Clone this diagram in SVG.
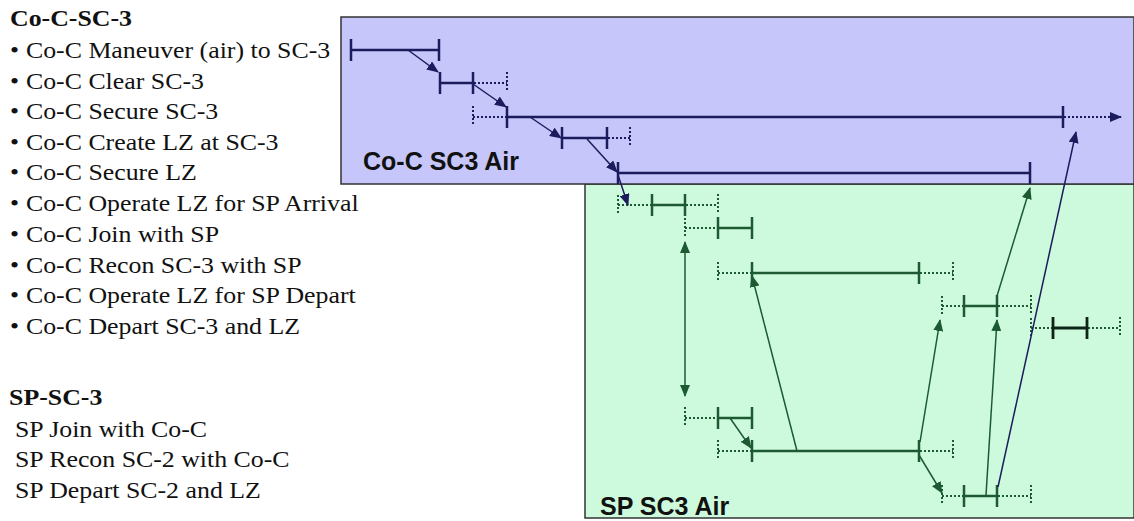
<svg xmlns="http://www.w3.org/2000/svg" width="1134" height="521" viewBox="0 0 1134 521">
<style>
.bg{fill:#ffffff}
.lst{font-size:23.5px;fill:#111}
.b{font-weight:bold}
.lbl{font-family:"Liberation Sans",Arial,sans-serif;font-weight:bold;font-size:25px;fill:#111}
.nv{stroke:#1c1c5c;stroke-width:2.5;fill:none}
.gr{stroke:#1d5a33;stroke-width:2.5;fill:none}
.bk{stroke:#0e2416;stroke-width:2.8;fill:none}
.nvd{stroke:#1c1c5c;stroke-width:2;stroke-dasharray:2 2;fill:none}
.grd{stroke:#1d5a33;stroke-width:2;stroke-dasharray:2 2;fill:none}
.an{stroke:#1c1c5c;stroke-width:1.5;fill:none;marker-end:url(#mN)}
.ag{stroke:#1d5a33;stroke-width:1.5;fill:none;marker-end:url(#mG)}
</style>
<defs>
<marker id="mN" viewBox="0 0 12 10" refX="11" refY="5" markerWidth="12" markerHeight="10" markerUnits="userSpaceOnUse" orient="auto"><path d="M0,0 L12,5 L0,10 z" fill="#1c1c5c"/></marker>
<marker id="mG" viewBox="0 0 12 10" refX="11" refY="5" markerWidth="12" markerHeight="10" markerUnits="userSpaceOnUse" orient="auto-start-reverse"><path d="M0,0 L12,5 L0,10 z" fill="#1d5a33"/></marker>
</defs>
<rect class="bg" x="0" y="0" width="1134" height="521"/>

<g id="list-coc" class="lst" font-family="Liberation Serif, Times New Roman, serif" transform="scale(1.1,1)">
<text class="b" x="9.1" y="26">Co-C-SC-3</text>
<text y="58"><tspan x="9.1">•</tspan><tspan x="23.6">Co-C Maneuver (air) to SC-3</tspan></text>
<text y="89"><tspan x="9.1">•</tspan><tspan x="23.6">Co-C Clear SC-3</tspan></text>
<text y="119"><tspan x="9.1">•</tspan><tspan x="23.6">Co-C Secure SC-3</tspan></text>
<text y="150"><tspan x="9.1">•</tspan><tspan x="23.6">Co-C Create LZ at SC-3</tspan></text>
<text y="180"><tspan x="9.1">•</tspan><tspan x="23.6">Co-C Secure LZ</tspan></text>
<text y="211"><tspan x="9.1">•</tspan><tspan x="23.6">Co-C Operate LZ for SP Arrival</tspan></text>
<text y="242"><tspan x="9.1">•</tspan><tspan x="23.6">Co-C Join with SP</tspan></text>
<text y="273"><tspan x="9.1">•</tspan><tspan x="23.6">Co-C Recon SC-3 with SP</tspan></text>
<text y="303"><tspan x="9.1">•</tspan><tspan x="23.6">Co-C Operate LZ for SP Depart</tspan></text>
<text y="334"><tspan x="9.1">•</tspan><tspan x="23.6">Co-C Depart SC-3 and LZ</tspan></text>
</g>
<g id="list-sp" class="lst" font-family="Liberation Serif, Times New Roman, serif" transform="scale(1.1,1)">
<text class="b" x="8.2" y="405">SP-SC-3</text>
<text x="13.6" y="437">SP Join with Co-C</text>
<text x="13.6" y="467">SP Recon SC-2 with Co-C</text>
<text x="13.6" y="498">SP Depart SC-2 and LZ</text>
</g>

<g id="lane-sp">
<rect x="585" y="184" width="549" height="334" fill="#cdfadc" stroke="#333" stroke-width="1.5"/>
<text class="lbl" x="600" y="515">SP SC3 Air</text>
</g>
<g id="lane-coc">
<rect x="341" y="17" width="793" height="167" fill="#c6c6fb" stroke="#333" stroke-width="1.5"/>
<text class="lbl" x="363" y="170">Co-C SC3 Air</text>
</g>

<g id="n-maneuver"><path class="nv" d="M351,50 H439 M351,39 V61 M439,39 V61"/></g>
<g id="n-clear"><path class="nv" d="M440,83 H473 M440,72 V94 M473,72 V94"/><path class="nvd" d="M474,83 H507 M507,72 V92"/></g>
<g id="n-secure"><path class="nvd" d="M473,106 V126 M473,117 H507"/><path class="nv" d="M507,117 H1063 M507,106 V128 M1063,106 V128"/></g>
<g id="n-createlz"><path class="nv" d="M562,138 H607 M562,127 V149 M607,127 V149"/><path class="nvd" d="M608,138 H630 M630,127 V147"/></g>
<g id="n-securelz"><path class="nv" d="M618,173 H1030 M618,162 V184 M1030,162 V184"/></g>

<g id="n-oparr"><path class="grd" d="M618,195 V213 M618,205 H652 M686,205 H718 M718,194 V212"/><path class="gr" d="M652,205 H685 M652,194 V216 M685,194 V216"/></g>
<g id="n-join"><path class="grd" d="M685,218 V238 M685,228 H718"/><path class="gr" d="M718,228 H752 M718,217 V239 M752,217 V239"/></g>
<g id="n-recon"><path class="grd" d="M718,262 V282 M718,273 H752 M920,273 H953 M953,262 V282"/><path class="gr" d="M752,273 H919 M752,262 V284 M919,262 V284"/></g>
<g id="n-opdep"><path class="grd" d="M942,296 V314 M942,306 H964 M998,306 H1031 M1031,295 V315"/><path class="gr" d="M964,306 H997 M964,295 V317 M997,295 V317"/></g>
<g id="n-depart"><path class="grd" d="M1031,318 V338 M1031,328 H1053 M1088,328 H1120 M1120,317 V337"/><path class="bk" d="M1053,328 H1087 M1053,317 V339 M1087,317 V339"/></g>
<g id="n-spjoin"><path class="grd" d="M685,407 V427 M685,418 H718"/><path class="gr" d="M718,418 H752 M718,407 V429 M752,407 V429"/></g>
<g id="n-sprecon"><path class="grd" d="M718,440 V460 M718,451 H752 M920,451 H953 M953,440 V460"/><path class="gr" d="M752,451 H919 M752,440 V462 M919,440 V462"/></g>
<g id="n-spdepart"><path class="grd" d="M942,485 V505 M942,496 H964 M998,496 H1031 M1031,485 V505"/><path class="gr" d="M964,496 H997 M964,485 V507 M997,485 V507"/></g>

<g id="connectors">
<path class="an" d="M408,50 L438,72"/>
<path class="an" d="M473,84 L506,107"/>
<path class="an" d="M530,117 L561,138"/>
<path class="an" d="M587,139 L617,172"/>
<path class="an" d="M618,175 L628,205"/>
<path class="nvd" style="marker-end:url(#mN)" d="M1064,117 H1121"/>
<path class="an" d="M998,487 L1076,132"/>
<path class="ag" style="marker-start:url(#mG)" d="M685,242 V396"/>
<path class="ag" d="M730,418 L751,448"/>
<path class="ag" d="M797,451 L752,276"/>
<path class="ag" d="M920,442 L940,320"/>
<path class="ag" d="M919,455 L942,493"/>
<path class="ag" d="M986,495 L997,320"/>
<path class="ag" d="M997,296 L1030,188"/>
</g>
</svg>
